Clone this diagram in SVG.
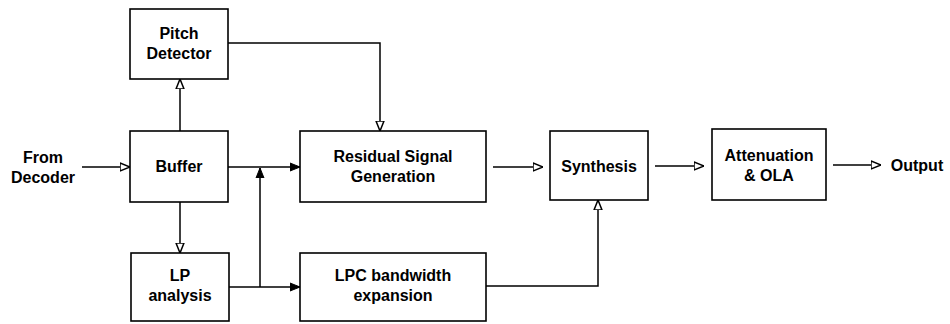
<svg xmlns="http://www.w3.org/2000/svg" width="950" height="324" viewBox="0 0 950 324">
<style>
.box{fill:#fff;stroke:#000;stroke-width:1.6}
.t{font-family:"Liberation Sans",Arial,sans-serif;font-weight:bold;font-size:16px;fill:#000;text-anchor:middle}
.c{fill:none;stroke:#000;stroke-width:1.5}
</style>
<defs>
<marker id="open" viewBox="0 0 10 10" refX="10" refY="5" markerWidth="10" markerHeight="10" markerUnits="userSpaceOnUse" orient="auto">
<path d="M0,1 L10,5 L0,9 Z" fill="#fff" stroke="#000" stroke-width="1.5"/>
</marker>
<marker id="fill" viewBox="0 0 10 10" refX="10" refY="5" markerWidth="10" markerHeight="10" markerUnits="userSpaceOnUse" orient="auto">
<path d="M0,1 L10,5 L0,9 Z" fill="#000" stroke="#000" stroke-width="1"/>
</marker>
</defs>
<rect width="950" height="324" fill="#fff"/>
<g id="connectors">
<path class="c" d="M82,167 H130" marker-end="url(#open)"/>
<path class="c" d="M180,131 V79" marker-end="url(#open)"/>
<path class="c" d="M180,202 V253" marker-end="url(#open)"/>
<path class="c" d="M228,167 H300" marker-end="url(#fill)"/>
<path class="c" d="M229,287 H300" marker-end="url(#fill)"/>
<path class="c" d="M260,287 V168" marker-end="url(#fill)"/>
<path class="c" d="M228,43 H380 V131" marker-end="url(#open)"/>
<path class="c" d="M493,167 H543" marker-end="url(#open)"/>
<path class="c" d="M486,286 H598 V200" marker-end="url(#open)"/>
<path class="c" d="M655,166 H704" marker-end="url(#open)"/>
<path class="c" d="M833,165 H881" marker-end="url(#open)"/>
</g>
<g id="from-decoder"><text class="t" x="43" y="163">From</text><text class="t" x="43" y="183">Decoder</text></g>
<g id="pitch-detector"><rect class="box" x="130" y="9" width="98" height="70"/><text class="t" x="179" y="39">Pitch</text><text class="t" x="179" y="59">Detector</text></g>
<g id="buffer"><rect class="box" x="130" y="131" width="98" height="71"/><text class="t" x="179" y="172">Buffer</text></g>
<g id="lp-analysis"><rect class="box" x="131" y="253" width="98" height="68"/><text class="t" x="180" y="281">LP</text><text class="t" x="180" y="301">analysis</text></g>
<g id="residual"><rect class="box" x="300" y="131" width="186" height="71"/><text class="t" x="393" y="162">Residual Signal</text><text class="t" x="393" y="182">Generation</text></g>
<g id="lpc"><rect class="box" x="300" y="253" width="186" height="68"/><text class="t" x="393" y="281">LPC bandwidth</text><text class="t" x="393" y="301">expansion</text></g>
<g id="synthesis"><rect class="box" x="550" y="131" width="98" height="69"/><text class="t" x="599" y="172">Synthesis</text></g>
<g id="attenuation"><rect class="box" x="712" y="129" width="114" height="71"/><text class="t" x="769" y="161">Attenuation</text><text class="t" x="769" y="181">&amp; OLA</text></g>
<g id="output"><text class="t" x="917" y="171">Output</text></g>
</svg>
